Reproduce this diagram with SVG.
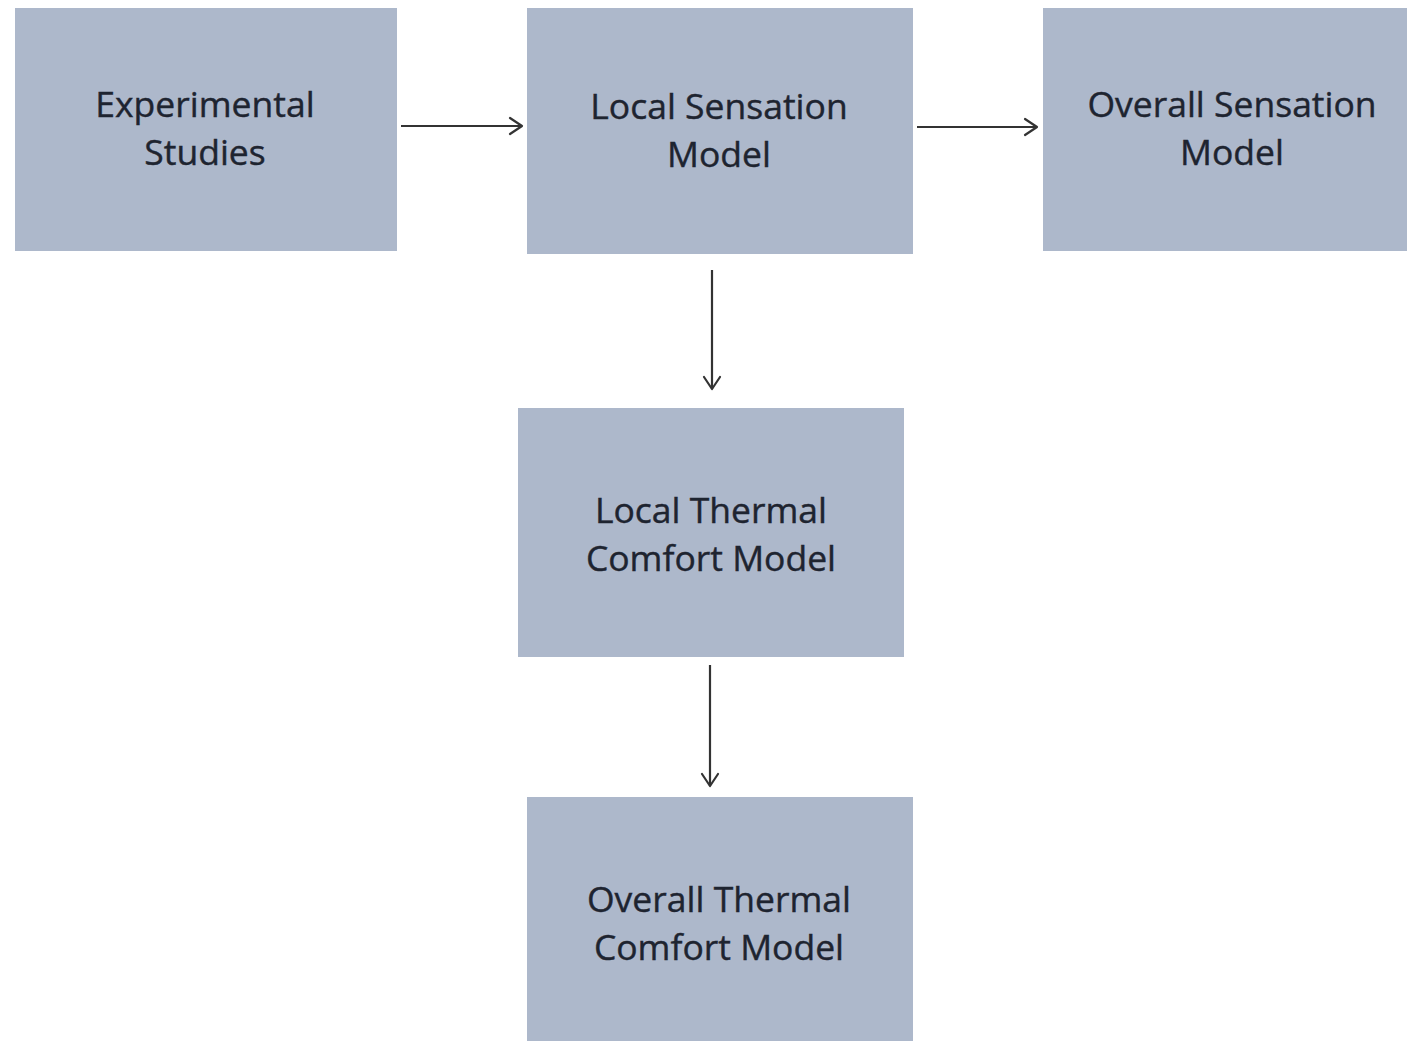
<svg xmlns="http://www.w3.org/2000/svg" width="1407" height="1041" viewBox="0 0 1407 1041">
<style>
.box{fill:#adb8cb}
.lbl{font-family:"Open Sans","Liberation Sans",sans-serif;font-size:35.5px;fill:#1e2430;stroke:#1e2430;stroke-width:0.4;text-anchor:middle}
.conn{stroke:#333333;stroke-width:2.2;fill:none}
.head{stroke:#333333;stroke-width:2.2;fill:none;stroke-linecap:round;stroke-linejoin:round}
</style>
<rect width="1407" height="1041" fill="#ffffff"/>
<g id="experimental-studies">
<rect class="box" x="15" y="8" width="382" height="243"/>
<text class="lbl" x="205" y="117">Experimental</text>
<text class="lbl" x="205" y="165">Studies</text>
</g>
<g id="local-sensation-model">
<rect class="box" x="527" y="8" width="386" height="246"/>
<text class="lbl" x="719" y="119">Local Sensation</text>
<text class="lbl" x="719" y="167">Model</text>
</g>
<g id="overall-sensation-model">
<rect class="box" x="1043" y="8" width="364" height="243"/>
<text class="lbl" x="1232" y="117">Overall Sensation</text>
<text class="lbl" x="1232" y="165">Model</text>
</g>
<g id="local-thermal-comfort-model">
<rect class="box" x="518" y="408" width="386" height="249"/>
<text class="lbl" x="711" y="523">Local Thermal</text>
<text class="lbl" x="711" y="571">Comfort Model</text>
</g>
<g id="overall-thermal-comfort-model">
<rect class="box" x="527" y="797" width="386" height="244"/>
<text class="lbl" x="719" y="912">Overall Thermal</text>
<text class="lbl" x="719" y="960">Comfort Model</text>
</g>
<g id="connectors">
<line class="conn" x1="401" y1="126" x2="522" y2="126"/>
<polyline class="head" points="510,118 522,126 510,134"/>
<line class="conn" x1="917" y1="127" x2="1037" y2="127"/>
<polyline class="head" points="1025,119 1037,127 1025,135"/>
<line class="conn" x1="712" y1="270" x2="712" y2="389"/>
<polyline class="head" points="704,377 712,389 720,377"/>
<line class="conn" x1="710" y1="665" x2="710" y2="786"/>
<polyline class="head" points="702,774 710,786 718,774"/>
</g>
</svg>
